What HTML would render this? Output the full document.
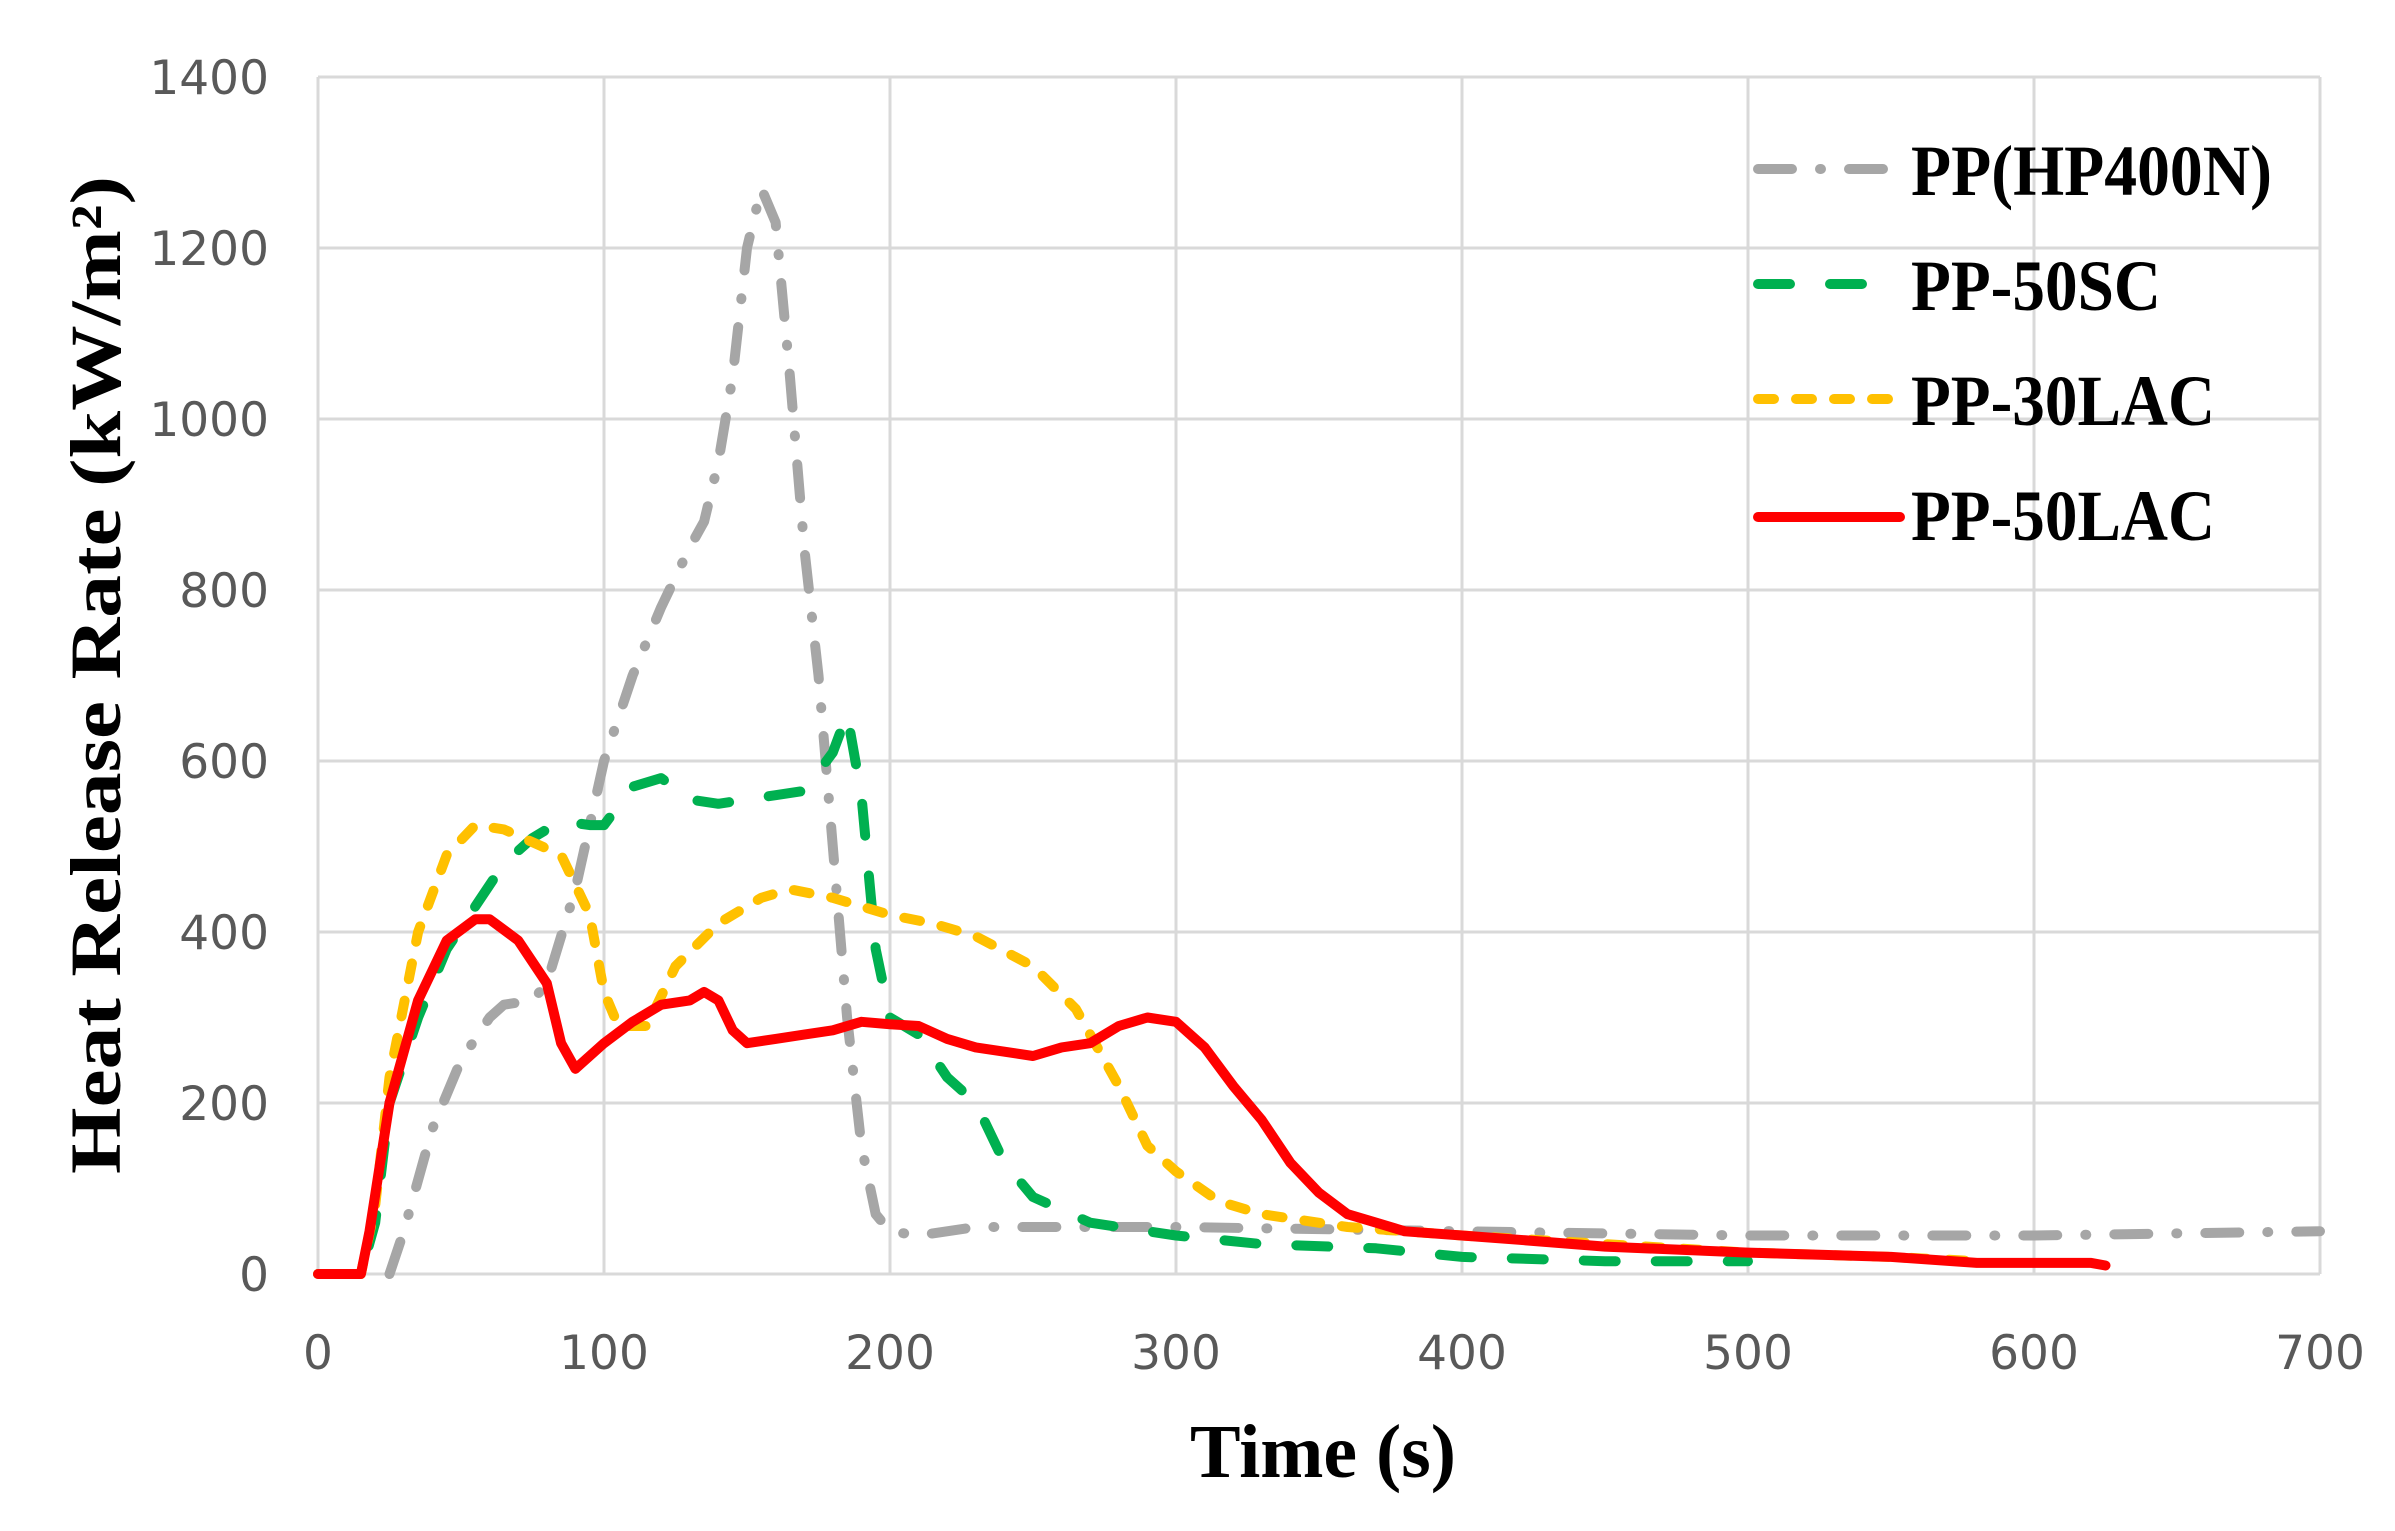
<!DOCTYPE html>
<html><head><meta charset="utf-8"><style>
html,body{margin:0;padding:0;background:#fff;}
svg{display:block;}
.tk{font-family:"DejaVu Sans","Liberation Sans",sans-serif;font-size:47px;fill:#595959;}
.bl{font-family:"Liberation Serif",serif;font-weight:bold;fill:#000;}
</style></head><body>
<svg id="s" width="2395" height="1531" viewBox="0 0 2395 1531" xmlns="http://www.w3.org/2000/svg">
<g id="grid" stroke="#d9d9d9" stroke-width="3"></g>
<g id="labels"></g>
<text class="bl" x="1323" y="1477" text-anchor="middle" font-size="76" textLength="266" lengthAdjust="spacingAndGlyphs">Time (s)</text>
<text class="bl" transform="translate(120,675) rotate(-90)" text-anchor="middle" font-size="72" textLength="998" lengthAdjust="spacingAndGlyphs">Heat Release Rate  (kW/m²)</text>
<g id="series" fill="none" stroke-linecap="round" stroke-linejoin="round"></g>
<g stroke-linecap="round" stroke-width="10">
<line x1="1758" y1="169" x2="1900" y2="169" stroke="#a6a6a6" stroke-dasharray="34 28 1 28"/>
<line x1="1758" y1="284" x2="1900" y2="284" stroke="#00b050" stroke-dasharray="32 40"/>
<line x1="1758" y1="399" x2="1900" y2="399" stroke="#ffc000" stroke-dasharray="16 22"/>
<line x1="1758" y1="517" x2="1900" y2="517" stroke="#ff0000"/>
</g>
<text class="bl" x="1911" y="195" font-size="72" textLength="361" lengthAdjust="spacingAndGlyphs">PP(HP400N)</text>
<text class="bl" x="1911" y="310" font-size="72" textLength="250" lengthAdjust="spacingAndGlyphs">PP-50SC</text>
<text class="bl" x="1911" y="425" font-size="72" textLength="304" lengthAdjust="spacingAndGlyphs">PP-30LAC</text>
<text class="bl" x="1911" y="540" font-size="72" textLength="304" lengthAdjust="spacingAndGlyphs">PP-50LAC</text>
</svg>
<script>
var NS="http://www.w3.org/2000/svg";
var X0=318,XS=2.86,Y0=1274,YS=171/200;
function px(t){return X0+t*XS;} function py(v){return Y0-v*YS;}
var g=document.getElementById('grid'),lb=document.getElementById('labels');
function el(p,tag,a,txt){var e=document.createElementNS(NS,tag);for(var k in a)e.setAttribute(k,a[k]);if(txt)e.textContent=txt;p.appendChild(e);return e;}
for(var v=0;v<=1400;v+=200){el(g,'line',{x1:X0,x2:px(700),y1:py(v),y2:py(v)});el(lb,'text',{'class':'tk',x:269,y:py(v)+17,'text-anchor':'end'},String(v));}
for(var t=0;t<=700;t+=100){el(g,'line',{x1:px(t),x2:px(t),y1:py(1400),y2:Y0});el(lb,'text',{'class':'tk',x:px(t),y:1369,'text-anchor':'middle'},String(t));}
var S=[
["#a6a6a6","34 28 1 28",10,[[25,0],[30,50],[40,170],[50,250],[60,300],[65,315],[75,320],[80,340],[90,450],[100,600],[110,700],[120,780],[130,850],[135,880],[140,950],[145,1050],[150,1200],[155,1270],[160,1230],[165,1050],[170,850],[175,700],[180,500],[185,300],[190,150],[195,70],[200,50],[210,45],[230,55],[250,55],[300,55],[400,50],[500,45],[600,45],[700,50]]],
["#00b050","32 40",10,[[0,0],[15,0],[20,60],[25,200],[35,300],[45,380],[55,430],[65,480],[75,510],[85,530],[95,525],[100,525],[110,570],[120,580],[130,555],[140,550],[160,560],[170,565],[180,610],[185,655],[190,560],[195,380],[200,300],[210,280],[220,230],[230,200],[240,130],[250,90],[270,60],[300,45],[330,35],[370,30],[400,20],[450,15],[500,15]]],
["#ffc000","16 22",10,[[0,0],[15,0],[20,80],[25,230],[35,400],[45,490],[55,525],[65,520],[75,505],[85,490],[95,420],[100,330],[105,290],[115,290],[125,360],[140,410],[155,440],[165,450],[180,440],[190,430],[200,420],[215,410],[230,395],[250,360],[265,310],[280,220],[290,150],[300,120],[315,85],[330,70],[360,55],[400,45],[450,35],[500,25],[550,20],[580,15]]],
["#ff0000","",10,[[0,0],[15,0],[18,50],[25,200],[35,320],[45,390],[55,415],[60,415],[70,390],[80,340],[85,270],[90,240],[100,270],[110,295],[120,315],[130,320],[135,330],[140,320],[145,285],[150,270],[160,275],[170,280],[180,285],[190,295],[200,292],[210,290],[220,275],[230,265],[240,260],[250,255],[260,265],[270,270],[280,290],[290,300],[300,295],[310,265],[320,220],[330,180],[340,130],[350,95],[360,70],[370,60],[380,50],[400,45],[420,40],[450,32],[500,25],[550,20],[580,13],[620,13],[625,10]]]
];
var sg=document.getElementById('series');
S.forEach(function(s){var d=s[3].map(function(p,i){return (i?'L':'M')+px(p[0]).toFixed(1)+' '+py(p[1]).toFixed(1);}).join(' ');
var a={d:d,stroke:s[0],'stroke-width':s[2]};if(s[1])a['stroke-dasharray']=s[1];el(sg,'path',a);});
</script>
</body></html>
